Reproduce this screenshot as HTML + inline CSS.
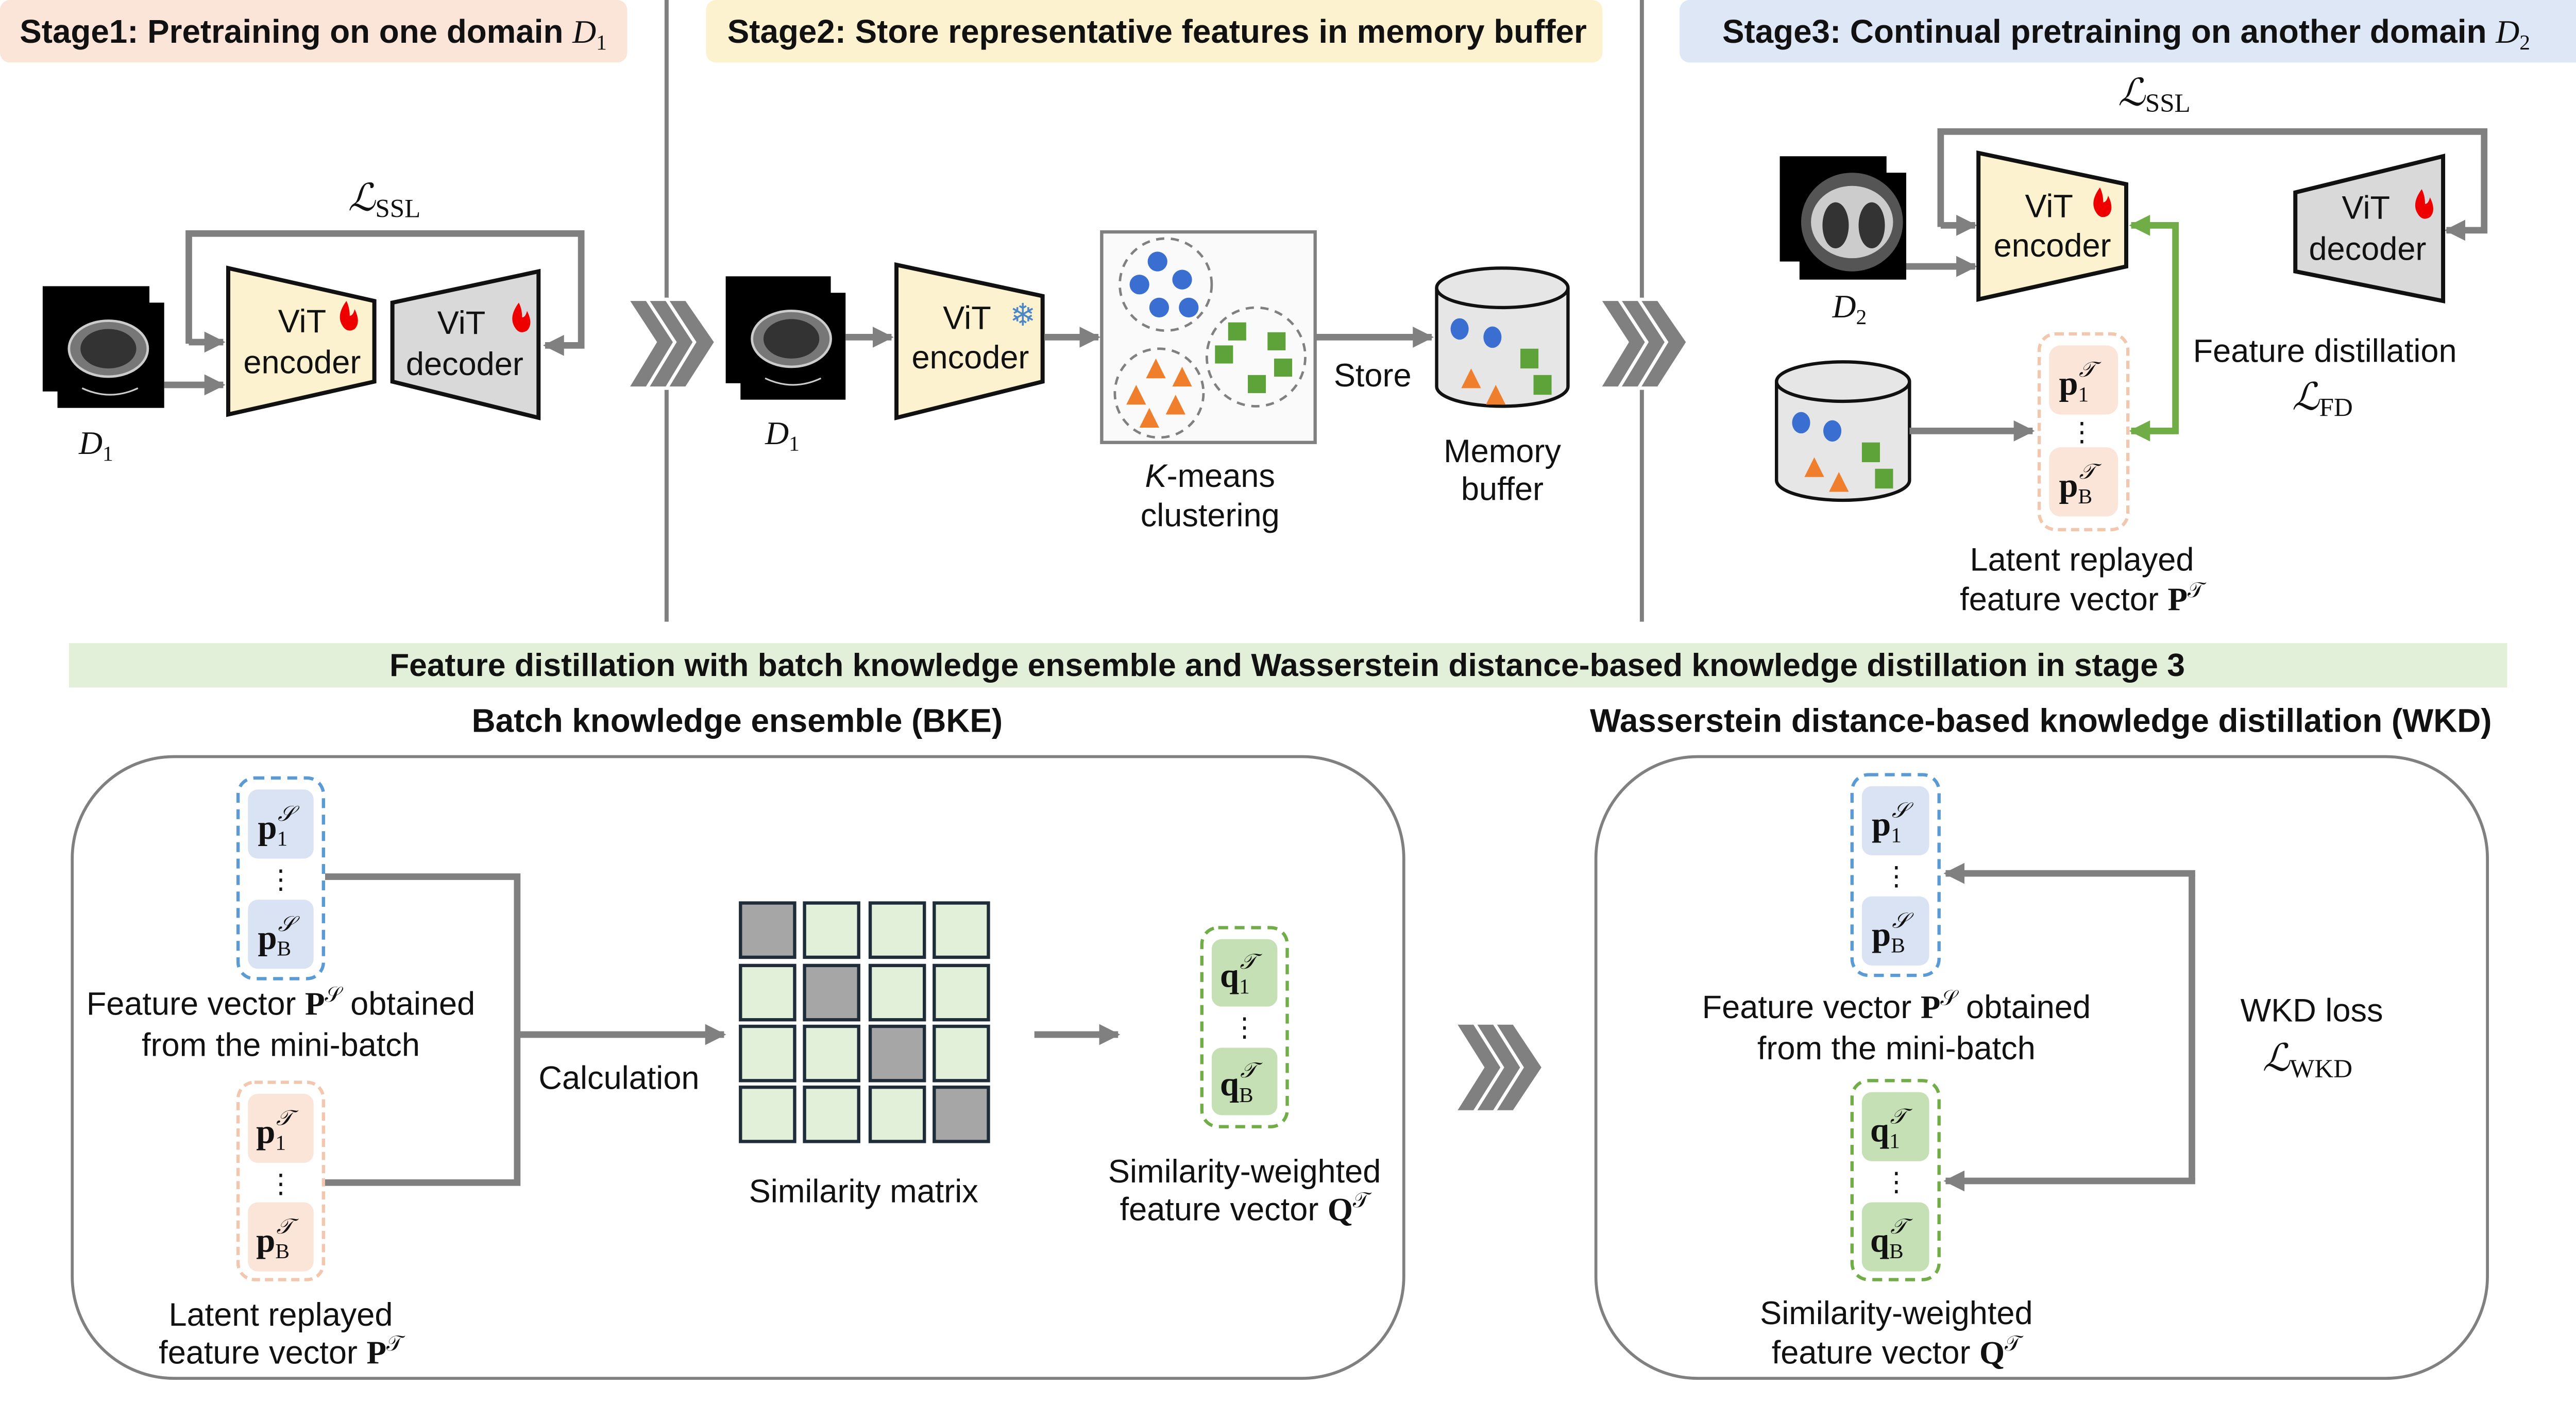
<!DOCTYPE html>
<html><head><meta charset="utf-8"><style>
html,body{margin:0;padding:0;background:#fff;}
svg{display:block;}
text{font-family:"Liberation Sans",sans-serif;fill:#111;}
.s{font-family:"Liberation Serif",serif;}
</style></head><body>
<svg xmlns="http://www.w3.org/2000/svg" width="5048" height="2723" viewBox="0 0 1584 853" preserveAspectRatio="none">
<defs>
<marker id="ah" viewBox="0 0 10 10" refX="9" refY="5" markerWidth="3.2" markerHeight="3.2" orient="auto"><path d="M0,0L10,5L0,10z" fill="#808080"/></marker>
<marker id="ag" viewBox="0 0 10 10" refX="9" refY="5" markerWidth="3.2" markerHeight="3.2" orient="auto"><path d="M0,0L10,5L0,10z" fill="#70ad47"/></marker>
</defs>

<rect x="0" y="0" width="382" height="38" rx="6" fill="#fbe4d8"/>
<text x="12" y="26" font-size="20" font-weight="bold">Stage1: Pretraining on one domain <tspan class="s" font-style="italic" font-weight="normal">D</tspan><tspan class="s" font-size="13" dy="4" font-weight="normal">1</tspan></text>
<rect x="430" y="0" width="546" height="38" rx="6" fill="#fdf2d0"/>
<text x="443" y="26" font-size="20" font-weight="bold">Stage2: Store representative features in memory buffer</text>
<rect x="1023" y="0" width="561" height="38" rx="6" fill="#dee7f5"/>
<text x="1049" y="26" font-size="20" font-weight="bold">Stage3: Continual pretraining on another domain <tspan class="s" font-style="italic" font-weight="normal">D</tspan><tspan class="s" font-size="13" dy="4" font-weight="normal">2</tspan></text>

<line x1="406" y1="0" x2="406" y2="378" stroke="#808080" stroke-width="2.5"/>
<line x1="1000" y1="0" x2="1000" y2="378" stroke="#808080" stroke-width="2.5"/>

<rect x="26" y="174" width="65" height="64" fill="#000"/>
<rect x="35" y="184" width="65" height="64" fill="#000"/>
<ellipse cx="66" cy="212" rx="24" ry="17" fill="#777" stroke="#ccc" stroke-width="1.5"/>
<ellipse cx="66" cy="212" rx="17" ry="12" fill="#333"/>
<path d="M50,236 Q67,244 84,236" stroke="#ccc" fill="none"/>
<text class="s" x="48" y="276" font-size="20" font-style="italic">D<tspan font-size="13" dy="4" font-style="normal">1</tspan></text>
<polygon points="139,163 228,183 228,232 139,252" fill="#fdf2cf" stroke="#111" stroke-width="2.5"/>
<text x="184" y="202" font-size="19.8" text-anchor="middle">ViT</text>
<path d="M211,183 q-6,8 -3,14 q3,6 8,3 q4,-4 0,-12 q-1,4 -3,4 q0,-5 -2,-9z" fill="#e00"/>
<text x="184" y="227" font-size="19.8" text-anchor="middle">encoder</text>
<polygon points="239,184 328,165 328,254 239,232" fill="#d9d9d9" stroke="#111" stroke-width="2.5"/>
<text x="281" y="203" font-size="19.8" text-anchor="middle">ViT</text>
<path d="M316,184 q-6,8 -3,14 q3,6 8,3 q4,-4 0,-12 q-1,4 -3,4 q0,-5 -2,-9z" fill="#e00"/>
<text x="283" y="228" font-size="19.8" text-anchor="middle">decoder</text>
<polyline points="115,209 115,142 354,142 354,210 332,210" fill="none" stroke="#808080" stroke-width="4" marker-end="url(#ah)"/>
<line x1="115" y1="208" x2="136" y2="208" stroke="#808080" stroke-width="4" marker-end="url(#ah)"/>
<line x1="100" y1="234" x2="136" y2="234" stroke="#808080" stroke-width="4" marker-end="url(#ah)"/>
<text class="s" x="212" y="128" font-size="23" font-style="italic">ℒ<tspan font-size="16" dy="4" font-style="normal">SSL</tspan></text>

<g fill="#808080" stroke="#fff" stroke-width="2">
<polygon points="382,182 394,182 412,208 394,236 382,236 399,208"/>
<polygon points="394,182 406,182 424,208 406,236 394,236 411,208"/>
<polygon points="406,182 418,182 436,208 418,236 406,236 423,208"/>
<polygon points="974,182 986,182 1004,208 986,236 974,236 991,208"/>
<polygon points="986,182 998,182 1016,208 998,236 986,236 1003,208"/>
<polygon points="998,182 1010,182 1028,208 1010,236 998,236 1015,208"/>
<polygon points="886,622 898,622 916,649 898,676 886,676 903,649"/>
<polygon points="898,622 910,622 928,649 910,676 898,676 915,649"/>
<polygon points="910,622 922,622 940,649 922,676 910,676 927,649"/>
</g>

<rect x="442" y="168" width="64" height="65" fill="#000"/>
<rect x="451" y="178" width="64" height="65" fill="#000"/>
<ellipse cx="482" cy="206" rx="24" ry="17" fill="#777" stroke="#ccc" stroke-width="1.5"/>
<ellipse cx="482" cy="206" rx="17" ry="12" fill="#333"/>
<path d="M466,230 Q483,238 500,230" stroke="#ccc" fill="none"/>
<text class="s" x="466" y="270" font-size="20" font-style="italic">D<tspan font-size="13" dy="4" font-style="normal">1</tspan></text>
<line x1="515" y1="205" x2="543" y2="205" stroke="#808080" stroke-width="4" marker-end="url(#ah)"/>
<polygon points="546,161 635,180 635,232 546,254" fill="#fdf2cf" stroke="#111" stroke-width="2.5"/>
<text x="589" y="200" font-size="19.8" text-anchor="middle">ViT</text>
<text x="623" y="198" font-size="19" text-anchor="middle" style="fill:#4a86c8">❄</text>
<text x="591" y="224" font-size="19.8" text-anchor="middle">encoder</text>
<line x1="636" y1="205" x2="669" y2="205" stroke="#808080" stroke-width="4" marker-end="url(#ah)"/>
<rect x="671" y="141" width="130" height="128" fill="#fafafa" stroke="#808080" stroke-width="2"/>
<g fill="none" stroke="#808080" stroke-width="1.5" stroke-dasharray="5,4">
<circle cx="710" cy="173" r="28"/><circle cx="765" cy="217" r="30"/><circle cx="706" cy="239" r="27"/>
</g>
<g fill="#3a6fd1"><circle cx="705" cy="159" r="6"/><circle cx="694" cy="173" r="6"/><circle cx="720" cy="170" r="6"/><circle cx="706" cy="187" r="6"/><circle cx="724" cy="187" r="6"/></g>
<g fill="#5ea33a"><rect x="748" y="196" width="11" height="11"/><rect x="772" y="202" width="11" height="11"/><rect x="740" y="210" width="11" height="11"/><rect x="776" y="218" width="11" height="11"/><rect x="760" y="228" width="11" height="11"/></g>
<g fill="#ef7f2d"><polygon points="704,218 698,230 710,230"/><polygon points="720,223 714,235 726,235"/><polygon points="692,234 686,246 698,246"/><polygon points="716,240 710,252 722,252"/><polygon points="700,248 694,260 706,260"/></g>
<text x="737" y="296" font-size="19.8" text-anchor="middle"><tspan font-style="italic">K</tspan>-means</text>
<text x="737" y="320" font-size="19.8" text-anchor="middle">clustering</text>
<line x1="801" y1="205" x2="872" y2="205" stroke="#808080" stroke-width="4" marker-end="url(#ah)"/>
<text x="836" y="235" font-size="19.8" text-anchor="middle">Store</text>
<path d="M875,175 L875,235 A40,12 0 0 0 955,235 L955,175" fill="#e6e6e6" stroke="#111" stroke-width="2"/>
<ellipse cx="915" cy="175" rx="40" ry="12" fill="#e6e6e6" stroke="#111" stroke-width="2"/>
<g fill="#3a6fd1"><ellipse cx="889" cy="200" rx="5.5" ry="6.5"/><ellipse cx="909" cy="205" rx="5.5" ry="6.5"/></g>
<g fill="#5ea33a"><rect x="926" y="212" width="11" height="12"/><rect x="934" y="228" width="11" height="12"/></g>
<g fill="#ef7f2d"><polygon points="896,224 890,236 902,236"/><polygon points="911,234 905,246 917,246"/></g>
<text x="915" y="281" font-size="19.8" text-anchor="middle">Memory</text>
<text x="915" y="304" font-size="19.8" text-anchor="middle">buffer</text>

<text class="s" x="1290" y="64" font-size="23" font-style="italic">ℒ<tspan font-size="16" dy="4" font-style="normal">SSL</tspan></text>
<polyline points="1182,138 1182,80 1513,80 1513,140 1490,140" fill="none" stroke="#808080" stroke-width="4" marker-end="url(#ah)"/>
<line x1="1182" y1="137" x2="1203" y2="137" stroke="#808080" stroke-width="4" marker-end="url(#ah)"/>
<rect x="1084" y="95" width="65" height="64" fill="#000"/>
<rect x="1096" y="105" width="65" height="65" fill="#000"/>
<ellipse cx="1128" cy="135" rx="31" ry="30" fill="#555"/>
<ellipse cx="1128" cy="135" rx="25" ry="22" fill="#ccc"/>
<ellipse cx="1118" cy="137" rx="8" ry="14" fill="#333"/>
<ellipse cx="1140" cy="137" rx="8" ry="14" fill="#333"/>
<line x1="1161" y1="162" x2="1203" y2="162" stroke="#808080" stroke-width="4" marker-end="url(#ah)"/>
<text class="s" x="1116" y="193" font-size="20" font-style="italic">D<tspan font-size="13" dy="4" font-style="normal">2</tspan></text>
<polygon points="1205,93 1295,112 1295,162 1205,182" fill="#fdf2cf" stroke="#111" stroke-width="2.5"/>
<text x="1248" y="132" font-size="19.8" text-anchor="middle">ViT</text>
<path d="M1279,114 q-6,8 -3,14 q3,6 8,3 q4,-4 0,-12 q-1,4 -3,4 q0,-5 -2,-9z" fill="#e00"/>
<text x="1250" y="156" font-size="19.8" text-anchor="middle">encoder</text>
<polygon points="1398,117 1488,95 1488,183 1398,165" fill="#d9d9d9" stroke="#111" stroke-width="2.5"/>
<text x="1441" y="133" font-size="19.8" text-anchor="middle">ViT</text>
<path d="M1475,115 q-6,8 -3,14 q3,6 8,3 q4,-4 0,-12 q-1,4 -3,4 q0,-5 -2,-9z" fill="#e00"/>
<text x="1442" y="158" font-size="19.8" text-anchor="middle">decoder</text>
<polyline points="1298,262 1325,262 1325,137 1298,137" fill="none" stroke="#70ad47" stroke-width="4" marker-end="url(#ag)"/>
<line x1="1325" y1="262" x2="1298" y2="262" stroke="#70ad47" stroke-width="4" marker-end="url(#ag)"/>
<text x="1416" y="220" font-size="19.8" text-anchor="middle">Feature distillation</text>
<text class="s" x="1396" y="249" font-size="23" font-style="italic">ℒ<tspan font-size="16" dy="4" font-style="normal">FD</tspan></text>
<path d="M1082,232 L1082,292 A40,12 0 0 0 1163,292 L1163,232" fill="#e6e6e6" stroke="#111" stroke-width="2"/>
<ellipse cx="1122.5" cy="232" rx="40.5" ry="12" fill="#e6e6e6" stroke="#111" stroke-width="2"/>
<g fill="#3a6fd1"><ellipse cx="1097" cy="257" rx="5.5" ry="6.5"/><ellipse cx="1116" cy="262" rx="5.5" ry="6.5"/></g>
<g fill="#5ea33a"><rect x="1134" y="269" width="11" height="12"/><rect x="1142" y="285" width="11" height="12"/></g>
<g fill="#ef7f2d"><polygon points="1105,278 1099,290 1111,290"/><polygon points="1120,287 1114,299 1126,299"/></g>
<line x1="1163" y1="262" x2="1238" y2="262" stroke="#808080" stroke-width="4" marker-end="url(#ah)"/>
<rect x="1242" y="203" width="54" height="119" rx="10" fill="#fff" stroke="#f3c7ae" stroke-width="2" stroke-dasharray="5,3"/>
<rect x="1248" y="210" width="42" height="42" rx="7" fill="#fbe4d8"/>
<rect x="1248" y="272" width="42" height="42" rx="7" fill="#fbe4d8"/>
<text class="s" x="1254" y="240" font-size="21" font-weight="bold">p<tspan font-size="13" font-weight="normal" dy="4">1</tspan><tspan font-size="13" font-weight="normal" font-style="italic" dx="-6" dy="-15">𝒯</tspan></text>
<text class="s" x="1268" y="268" font-size="16" text-anchor="middle">⋮</text>
<text class="s" x="1254" y="302" font-size="21" font-weight="bold">p<tspan font-size="13" font-weight="normal" dy="4">B</tspan><tspan font-size="13" font-weight="normal" font-style="italic" dx="-8" dy="-15">𝒯</tspan></text>
<text x="1268" y="347" font-size="19.8" text-anchor="middle">Latent replayed</text>
<text x="1268" y="371" font-size="19.8" text-anchor="middle">feature vector <tspan class="s" font-weight="bold">P</tspan><tspan class="s" font-size="13" dy="-8">𝒯</tspan></text>

<rect x="42" y="391" width="1485" height="27" fill="#e2efd9"/>
<text x="784" y="411" font-size="19.6" font-weight="bold" text-anchor="middle">Feature distillation with batch knowledge ensemble and Wasserstein distance-based knowledge distillation in stage 3</text>
<text x="449" y="445" font-size="20" font-weight="bold" text-anchor="middle">Batch knowledge ensemble (BKE)</text>
<text x="1243" y="445" font-size="20" font-weight="bold" text-anchor="middle">Wasserstein distance-based knowledge distillation (WKD)</text>

<rect x="44" y="460" width="811" height="378" rx="62" fill="none" stroke="#808080" stroke-width="1.8"/>
<rect x="972" y="460" width="543" height="378" rx="62" fill="none" stroke="#808080" stroke-width="1.8"/>

<rect x="145" y="473" width="52" height="122" rx="10" fill="#fff" stroke="#5b9bd5" stroke-width="2" stroke-dasharray="6,4"/>
<rect x="151" y="480" width="40" height="42" rx="6" fill="#dae3f3"/>
<rect x="151" y="547" width="40" height="42" rx="6" fill="#dae3f3"/>
<text class="s" x="157" y="510" font-size="21" font-weight="bold">p<tspan font-size="13" font-weight="normal" dy="4">1</tspan><tspan font-size="13" font-weight="normal" font-style="italic" dx="-6" dy="-15">𝒮</tspan></text>
<text class="s" x="171" y="540" font-size="16" text-anchor="middle">⋮</text>
<text class="s" x="157" y="577" font-size="21" font-weight="bold">p<tspan font-size="13" font-weight="normal" dy="4">B</tspan><tspan font-size="13" font-weight="normal" font-style="italic" dx="-8" dy="-15">𝒮</tspan></text>
<text x="171" y="617" font-size="19.8" text-anchor="middle">Feature vector <tspan class="s" font-weight="bold">P</tspan><tspan class="s" font-size="13" dy="-8">𝒮</tspan><tspan dy="8"> obtained</tspan></text>
<text x="171" y="642" font-size="19.8" text-anchor="middle">from the mini-batch</text>
<rect x="145" y="658" width="52" height="120" rx="10" fill="#fff" stroke="#f3c7ae" stroke-width="2" stroke-dasharray="5,3"/>
<rect x="151" y="665" width="40" height="42" rx="6" fill="#fbe4d8"/>
<rect x="151" y="731" width="40" height="42" rx="6" fill="#fbe4d8"/>
<text class="s" x="156" y="695" font-size="21" font-weight="bold">p<tspan font-size="13" font-weight="normal" dy="4">1</tspan><tspan font-size="13" font-weight="normal" font-style="italic" dx="-6" dy="-15">𝒯</tspan></text>
<text class="s" x="171" y="725" font-size="16" text-anchor="middle">⋮</text>
<text class="s" x="156" y="761" font-size="21" font-weight="bold">p<tspan font-size="13" font-weight="normal" dy="4">B</tspan><tspan font-size="13" font-weight="normal" font-style="italic" dx="-8" dy="-15">𝒯</tspan></text>
<text x="171" y="806" font-size="19.8" text-anchor="middle">Latent replayed</text>
<text x="171" y="829" font-size="19.8" text-anchor="middle">feature vector <tspan class="s" font-weight="bold">P</tspan><tspan class="s" font-size="13" dy="-8">𝒯</tspan></text>
<polyline points="198,533 315,533 315,719 198,719" fill="none" stroke="#808080" stroke-width="4"/>
<line x1="315" y1="629" x2="441" y2="629" stroke="#808080" stroke-width="4" marker-end="url(#ah)"/>
<text x="377" y="662" font-size="19.8" text-anchor="middle">Calculation</text>
<g stroke="#1f2d3a" stroke-width="2" fill="#e2efd9">
<rect x="451" y="549" width="33" height="33" fill="#a6a6a6"/><rect x="490" y="549" width="33" height="33"/><rect x="530" y="549" width="33" height="33"/><rect x="569" y="549" width="33" height="33"/>
<rect x="451" y="587" width="33" height="33"/><rect x="490" y="587" width="33" height="33" fill="#a6a6a6"/><rect x="530" y="587" width="33" height="33"/><rect x="569" y="587" width="33" height="33"/>
<rect x="451" y="624" width="33" height="33"/><rect x="490" y="624" width="33" height="33"/><rect x="530" y="624" width="33" height="33" fill="#a6a6a6"/><rect x="569" y="624" width="33" height="33"/>
<rect x="451" y="661" width="33" height="33"/><rect x="490" y="661" width="33" height="33"/><rect x="530" y="661" width="33" height="33"/><rect x="569" y="661" width="33" height="33" fill="#a6a6a6"/>
</g>
<text x="526" y="731" font-size="19.8" text-anchor="middle">Similarity matrix</text>
<line x1="630" y1="629" x2="681" y2="629" stroke="#808080" stroke-width="4" marker-end="url(#ah)"/>
<rect x="732" y="564" width="52" height="121" rx="10" fill="#fff" stroke="#70ad47" stroke-width="2" stroke-dasharray="6,4"/>
<rect x="738" y="571" width="40" height="41" rx="6" fill="#c5e0b4"/>
<rect x="738" y="637" width="40" height="41" rx="6" fill="#c5e0b4"/>
<text class="s" x="743" y="600" font-size="21" font-weight="bold">q<tspan font-size="13" font-weight="normal" dy="4">1</tspan><tspan font-size="13" font-weight="normal" font-style="italic" dx="-6" dy="-15">𝒯</tspan></text>
<text class="s" x="758" y="630" font-size="16" text-anchor="middle">⋮</text>
<text class="s" x="743" y="666" font-size="21" font-weight="bold">q<tspan font-size="13" font-weight="normal" dy="4">B</tspan><tspan font-size="13" font-weight="normal" font-style="italic" dx="-8" dy="-15">𝒯</tspan></text>
<text x="758" y="719" font-size="19.8" text-anchor="middle">Similarity-weighted</text>
<text x="758" y="742" font-size="19.8" text-anchor="middle">feature vector <tspan class="s" font-weight="bold">Q</tspan><tspan class="s" font-size="13" dy="-8">𝒯</tspan></text>

<rect x="1128" y="471" width="53" height="122" rx="10" fill="#fff" stroke="#5b9bd5" stroke-width="2" stroke-dasharray="6,4"/>
<rect x="1134" y="478" width="41" height="42" rx="6" fill="#dae3f3"/>
<rect x="1134" y="545" width="41" height="42" rx="6" fill="#dae3f3"/>
<text class="s" x="1140" y="508" font-size="21" font-weight="bold">p<tspan font-size="13" font-weight="normal" dy="4">1</tspan><tspan font-size="13" font-weight="normal" font-style="italic" dx="-6" dy="-15">𝒮</tspan></text>
<text class="s" x="1155" y="538" font-size="16" text-anchor="middle">⋮</text>
<text class="s" x="1140" y="575" font-size="21" font-weight="bold">p<tspan font-size="13" font-weight="normal" dy="4">B</tspan><tspan font-size="13" font-weight="normal" font-style="italic" dx="-8" dy="-15">𝒮</tspan></text>
<text x="1155" y="619" font-size="19.8" text-anchor="middle">Feature vector <tspan class="s" font-weight="bold">P</tspan><tspan class="s" font-size="13" dy="-8">𝒮</tspan><tspan dy="8"> obtained</tspan></text>
<text x="1155" y="644" font-size="19.8" text-anchor="middle">from the mini-batch</text>
<rect x="1128" y="657" width="53" height="121" rx="10" fill="#fff" stroke="#70ad47" stroke-width="2" stroke-dasharray="6,4"/>
<rect x="1134" y="664" width="41" height="42" rx="6" fill="#c5e0b4"/>
<rect x="1134" y="731" width="41" height="42" rx="6" fill="#c5e0b4"/>
<text class="s" x="1139" y="694" font-size="21" font-weight="bold">q<tspan font-size="13" font-weight="normal" dy="4">1</tspan><tspan font-size="13" font-weight="normal" font-style="italic" dx="-6" dy="-15">𝒯</tspan></text>
<text class="s" x="1155" y="724" font-size="16" text-anchor="middle">⋮</text>
<text class="s" x="1139" y="761" font-size="21" font-weight="bold">q<tspan font-size="13" font-weight="normal" dy="4">B</tspan><tspan font-size="13" font-weight="normal" font-style="italic" dx="-8" dy="-15">𝒯</tspan></text>
<text x="1155" y="805" font-size="19.8" text-anchor="middle">Similarity-weighted</text>
<text x="1155" y="829" font-size="19.8" text-anchor="middle">feature vector <tspan class="s" font-weight="bold">Q</tspan><tspan class="s" font-size="13" dy="-8">𝒯</tspan></text>
<polyline points="1335,531 1335,718" fill="none" stroke="#808080" stroke-width="4"/>
<line x1="1337" y1="531" x2="1185" y2="531" stroke="#808080" stroke-width="4" marker-end="url(#ah)"/>
<line x1="1337" y1="718" x2="1185" y2="718" stroke="#808080" stroke-width="4" marker-end="url(#ah)"/>
<text x="1408" y="621" font-size="19.8" text-anchor="middle">WKD loss</text>
<text class="s" x="1378" y="651" font-size="23" font-style="italic">ℒ<tspan font-size="16" dy="4" font-style="normal">WKD</tspan></text>
</svg>
</body></html>
